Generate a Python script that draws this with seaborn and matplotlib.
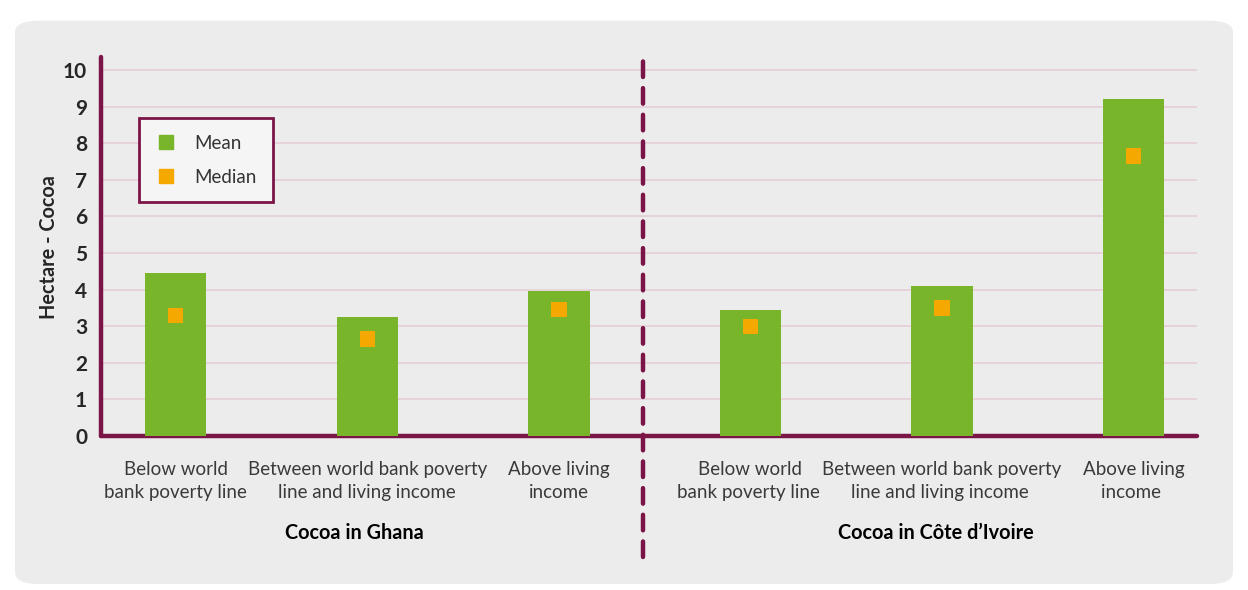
import matplotlib
matplotlib.use("Agg")
import matplotlib.pyplot as plt
import matplotlib.transforms as mtransforms
from matplotlib.patches import FancyBboxPatch
from matplotlib.lines import Line2D
import pandas as pd
import seaborn as sns

# data
categories = ["Below world\nbank poverty line",
              "Between world bank poverty\nline and living income",
              "Above living\nincome",
              "Below world\nbank poverty line ",
              "Between world bank poverty\nline and living income ",
              "Above living\nincome "]
groups = ["Cocoa in Ghana", "Cocoa in Côte d\u2019Ivoire"]
mean_ha = [4.45, 3.25, 3.95, 3.45, 4.1, 9.2]
median_ha = [3.3, 2.65, 3.45, 3.0, 3.5, 7.65]
y_ticks = list(range(0, 11))

GREEN = "#79b52a"
ORANGE = "#f5a800"
MAROON = "#7b1547"
GRID = "#e3cbd6"
PANEL = "#ececec"

df = pd.DataFrame({"cat": categories, "mean": mean_ha, "median": median_ha})

sns.set_style("white")
plt.rcParams["font.family"] = ["Lato", "DejaVu Sans"]

fig = plt.figure(figsize=(12.48, 5.9), dpi=100, facecolor="white")
panel = FancyBboxPatch((0.012, 0.01), 0.976, 0.955, boxstyle="round,pad=0,rounding_size=0.02",
                       transform=fig.transFigure, facecolor=PANEL, edgecolor="none", zorder=-10)
fig.patches.append(panel)

ax = fig.add_axes([0.081, 0.261, 0.878, 0.642])
ax.set_facecolor(PANEL)

sns.barplot(data=df, x="cat", y="mean", color=GREEN, width=0.32, saturation=1,
            linewidth=0, edgecolor=GREEN, ax=ax, zorder=3)
sns.scatterplot(data=df, x="cat", y="median", color=ORANGE, marker="s", s=120,
                edgecolor="none", ax=ax, zorder=4, legend=False)

ax.set_xlim(-0.39, 5.33)
ax.set_ylim(0, 10.35)
ax.set_yticks(y_ticks)
ax.yaxis.grid(True, color=GRID, lw=1.1)
ax.set_axisbelow(True)
for s in ["top", "right"]:
    ax.spines[s].set_visible(False)
for s in ["left", "bottom"]:
    ax.spines[s].set_color(MAROON)
    ax.spines[s].set_linewidth(3.2)
    ax.spines[s].set_capstyle("round")
ax.tick_params(axis="both", length=0)
ax.tick_params(axis="y", labelsize=15, pad=10)
ax.tick_params(axis="x", labelsize=13.5, pad=18, labelcolor="#3a3a3a")
for lab in ax.get_yticklabels():
    lab.set_fontweight("bold")
for lab in ax.get_xticklabels():
    lab.set_linespacing(1.45)
ax.set_xlabel("")
ax.set_ylabel("Hectare - Cocoa", fontsize=14.3, fontweight="bold", labelpad=3)

# dashed separator between the two countries
trans = mtransforms.blended_transform_factory(ax.transData, ax.transAxes)
ax.add_line(Line2D([2.44, 2.44], [-0.32, 1.015], transform=trans, color=MAROON, lw=3.2,
                   ls=(0, (3.5, 2.5)), dash_capstyle="round", clip_on=False, zorder=5))

# group labels
ax.text(0.93, -0.255, groups[0], transform=trans, ha="center", va="center",
        fontsize=14.3, fontweight="bold", color="black")
ax.text(3.97, -0.255, groups[1], transform=trans, ha="center", va="center",
        fontsize=14.3, fontweight="bold", color="black")

# legend
handles = [Line2D([], [], marker="s", ls="none", color=GREEN, markersize=10),
           Line2D([], [], marker="s", ls="none", color=ORANGE, markersize=10)]
leg = ax.legend(handles, ["Mean", "Median"], loc="upper left", bbox_to_anchor=(0.035, 0.84),
                frameon=True, fancybox=False, fontsize=13.5, handlelength=1.0,
                handletextpad=1.0, borderpad=0.9, labelspacing=0.9, borderaxespad=0)
leg.get_frame().set_facecolor("#f5f5f5")
leg.get_frame().set_edgecolor(MAROON)
leg.get_frame().set_linewidth(2)
leg.get_frame().set_alpha(1)
for t in leg.get_texts():
    t.set_color("#333333")

fig.savefig("out.png", dpi=100, facecolor="white")
